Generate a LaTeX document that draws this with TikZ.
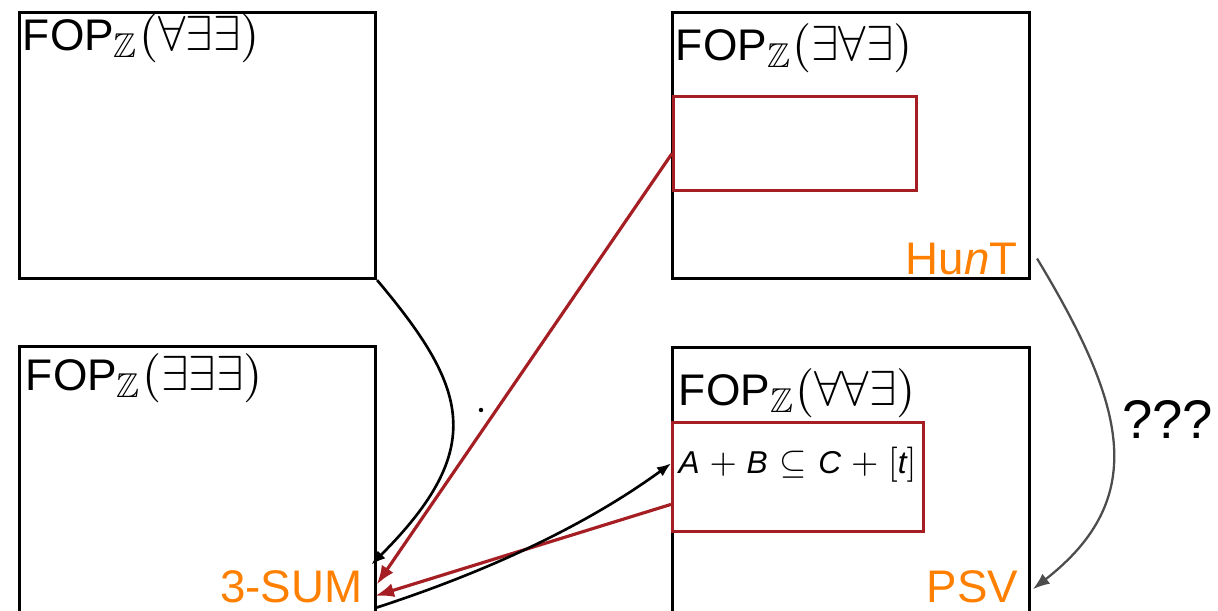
\documentclass[tikz,border=0pt]{standalone}
\usepackage{amsmath}
\usepackage{amssymb}
\usepackage{fontspec}
\setmainfont{Liberation Sans}
\usetikzlibrary{arrows.meta}
\definecolor{redColor}{RGB}{165, 30, 35}
\definecolor{orangeColor}{RGB}{255, 128, 0}
\definecolor{grayColor}{RGB}{77, 77, 77}
\newcommand{\letra}[1]{\text{\fontsize{9}{10}\selectfont\itshape #1}}
\newcommand{\fop}{{\fontsize{9}{11}\selectfont FOP}}

\begin{document}
\begin{tikzpicture}[
        x=0.02cm, y=-0.02cm,
        panel/.style={
            rectangle,
            draw=black,
            line width=1.8pt,
            minimum width=7.12cm,
            minimum height=5.32cm,
            anchor=north west,
            inner sep=0pt
        },
        zona/.style={
            rectangle,
            draw=redColor,
            line width=1.7pt,
            anchor=north west,
            inner sep=0pt
        },
        titulo/.style={
            anchor=base west,
            inner sep=0pt,
            font=\normalsize,
            scale=2.8
        },
        problema/.style={
            anchor=base east,
            inner sep=3pt,
            text=orangeColor,
            font=\fontsize{26}{31}\selectfont
        },
        flecha/.style={
            -{Latex[length=2.8mm, width=2.2mm]},
            line width=1.5pt
        },
        flecharoja/.style={
            -{Latex[length=3.8mm, width=2.8mm]},
            line width=1.8pt,
            draw=redColor
        },
        flechagris/.style={
            -{Latex[length=3.4mm, width=2.5mm]},
            line width=1.3pt,
            draw=grayColor
        }
    ]
    \clip (0,0) rectangle (1218,610);

    % the four fragments
    \node[panel] (aee) at (18,11) {};
    \node[panel, minimum width=7.14cm] (eae) at (671,11) {};
    \node[panel, minimum height=6cm] (eee) at (18,345) {};
    \node[panel, minimum width=7.14cm, minimum height=6cm] (aae) at (671,346) {};

    \node[titulo] (taee) at (22,50) {\fop$_{\mathbb{Z}}(\forall\exists\exists)$};
    \node[titulo] (teae) at (675,60) {\fop$_{\mathbb{Z}}(\exists\forall\exists)$};
    \node[titulo] (teee) at (25,390) {\fop$_{\mathbb{Z}}(\exists\exists\exists)$};
    \node[titulo] (taae) at (678,405) {\fop$_{\mathbb{Z}}(\forall\forall\exists)$};

    \node[zona, minimum width=4.86cm, minimum height=1.88cm] (zonaEAE) at (672,95) {};
    \node[zona, minimum width=5.02cm, minimum height=2.18cm] (zonaAAE) at (671,421) {};
    \node[titulo, scale=2/2.8] (sumset) at (678,473)
        {$\medmuskip=5mu \thickmuskip=6mu
          \letra{A}+\letra{B}\subseteq\letra{C}+[\letra{t}]$};

    \node[problema] (hunt) at (1023,274) {Hu\textit{n}T};
    \node[problema] (sum) at (368,602) {3-SUM};
    \node[problema] (psv) at (1024,602) {PSV};
    \node[anchor=base west, inner sep=0pt, font=\fontsize{31}{36}\selectfont] (qqq) at (1122,438) {???};
    \node[circle, fill, inner sep=0.9pt] (punto) at (481,410) {};

    % reductions
    \draw[flecha] (aee.south east)
        .. controls +(90,107) and +(117,-117) .. ([xshift=2pt]sum.north east);
    \draw[flecharoja] ([yshift=-5.7pt]zonaEAE.west) -- ([xshift=5pt, yshift=1pt]sum.east);
    \draw[flecharoja] ([yshift=-15.6pt]zonaAAE.west) -- ([xshift=4pt, yshift=-5.5pt]sum.east);
    \draw[flecha] ([xshift=4pt]sum.south east)
        .. controls +(105,-34) and +(-89,65) .. ([yshift=7.7pt]zonaAAE.west);
    \draw[flechagris] ([xshift=8pt]hunt.east)
        .. controls +(88,146) and +(118,-92) .. ([xshift=5pt, yshift=-1.7pt]psv.east);

\end{tikzpicture}
\end{document}
